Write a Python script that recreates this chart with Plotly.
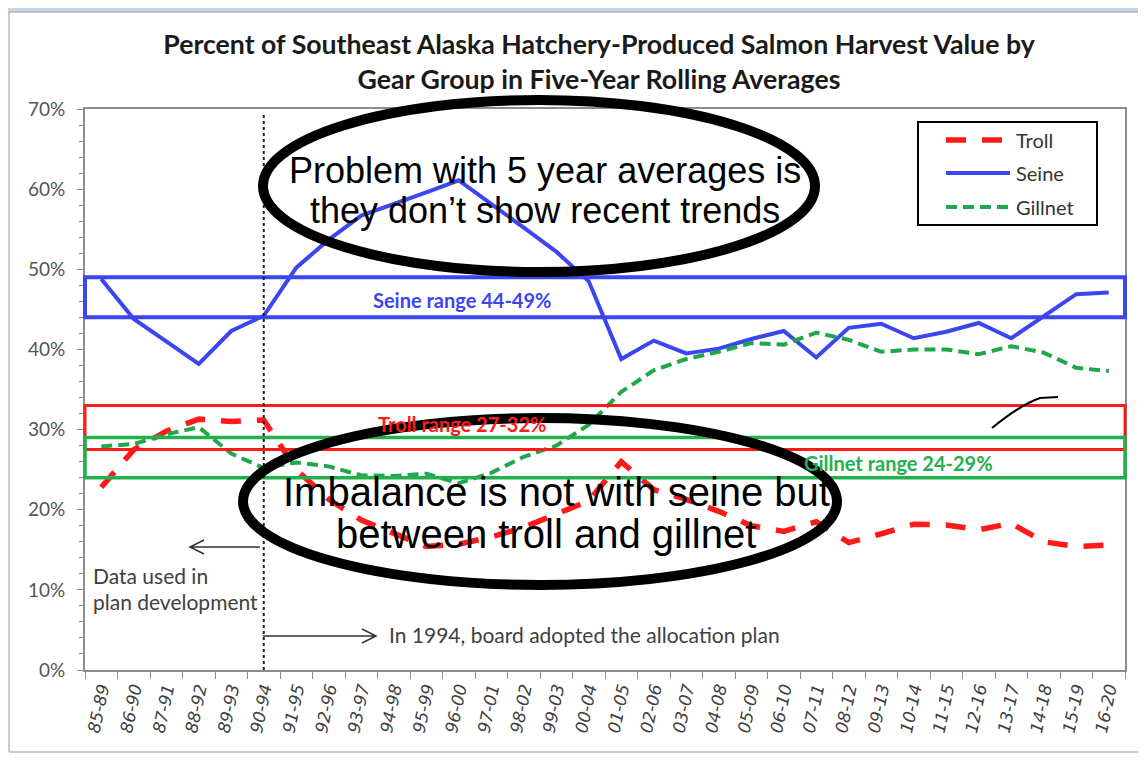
import plotly.graph_objects as go

categories = ["85-89", "86-90", "87-91", "88-92", "89-93", "90-94", "91-95", "92-96",
              "93-97", "94-98", "95-99", "96-00", "97-01", "98-02", "99-03", "00-04",
              "01-05", "02-06", "03-07", "04-08", "05-09", "06-10", "07-11", "08-12",
              "09-13", "10-14", "11-15", "12-16", "13-17", "14-18", "15-19", "16-20"]

troll = [22.8, 27.5, 29.8, 31.3, 31.0, 31.2, 25.0, 21.3, 18.7, 17.1, 15.4, 15.7,
         16.6, 17.8, 19.5, 21.1, 26.0, 22.5, 21.3, 19.8, 18.0, 17.3, 18.5, 15.9,
         17.0, 18.2, 18.1, 17.5, 18.3, 16.0, 15.4, 15.6]
seine = [48.8, 43.8, 41.0, 38.2, 42.3, 44.2, 50.2, 53.7, 56.7, 58.1, 59.6, 61.1,
         58.2, 55.2, 52.2, 48.5, 38.8, 41.1, 39.5, 40.1, 41.3, 42.3, 39.0, 42.7,
         43.2, 41.4, 42.2, 43.3, 41.4, 44.1, 46.9, 47.1]
gillnet = [27.9, 28.2, 29.4, 30.3, 27.0, 25.2, 25.9, 25.4, 24.3, 24.2, 24.5, 23.3,
           24.6, 26.6, 28.0, 30.6, 34.7, 37.4, 38.8, 39.7, 40.8, 40.6, 42.1, 41.2,
           39.7, 40.0, 40.0, 39.4, 40.4, 39.6, 37.7, 37.3]

series_names = ["Troll", "Seine", "Gillnet"]

ranges = {"Seine": (44, 49), "Troll": (27.5, 33), "Gillnet": (24, 29)}
range_labels = {"Seine": "Seine range 44-49%", "Troll": "Troll range 27-32%",
                "Gillnet": "Gillnet range 24-29%"}

# page geometry (the page body adds an 8px offset)
OFF = 8
PAGE_W, PAGE_H = 1146, 771
W, H = PAGE_W - OFF, PAGE_H - OFF
PL, PR, PT, PB = 85, 1125, 109, 670   # plot area in page pixels

RED = "#ff1a1a"
BLUE = "#3c46f0"
GREEN = "#1fa84a"
BOXGREEN = "#22b04c"
TXT = "#404040"
SANS = "Lato, sans-serif"
ARIAL = "Liberation Sans, Arial, sans-serif"

styles = {
    "Troll": dict(color=RED, width=5.5, dash="20px,16px"),
    "Seine": dict(color=BLUE, width=4),
    "Gillnet": dict(color=GREEN, width=4, dash="11px,6px"),
}


def px(x):
    return (x - PL) / (PR - PL)


def py(y):
    return (PB - y) / (PB - PT)


fig = go.Figure()
for name, vals in zip(series_names, (troll, seine, gillnet)):
    fig.add_trace(go.Scatter(x=categories, y=vals, name=name, mode="lines",
                             line=styles[name], showlegend=False))

shapes = []
annotations = []

# background frame
shapes.append(dict(type="rect", xref="paper", yref="paper", x0=px(0), x1=px(PAGE_W + 5),
                   y0=py(0), y1=py(12), fillcolor="#c6d5ea", line=dict(width=0),
                   layer="below"))
shapes.append(dict(type="rect", xref="paper", yref="paper", x0=px(9), x1=px(1141),
                   y0=py(12), y1=py(752), fillcolor="rgba(0,0,0,0)",
                   line=dict(color="#9a9a9a", width=1), layer="below"))

# range boxes
box_cols = {"Seine": BLUE, "Troll": RED, "Gillnet": BOXGREEN}
box_w = {"Seine": 4, "Troll": 3, "Gillnet": 3.5}
for k, (lo, hi) in ranges.items():
    shapes.append(dict(type="rect", xref="paper", yref="y", x0=0.0, x1=1.0,
                       y0=lo, y1=hi, line=dict(color=box_cols[k], width=box_w[k]),
                       fillcolor="rgba(0,0,0,0)"))

label_pos = {"Seine": (462, 300), "Troll": (462, 424), "Gillnet": (898, 463)}
for k, (lx, ly) in label_pos.items():
    annotations.append(dict(x=px(lx), y=py(ly), xref="paper", yref="paper",
                            xanchor="center", yanchor="middle",
                            text="<b>%s</b>" % range_labels[k], showarrow=False,
                            font=dict(family=SANS, size=20, color=box_cols[k])))

# dotted vertical line at 90-94
shapes.append(dict(type="line", xref="x", yref="paper", x0=5, x1=5, y0=0, y1=py(112),
                   line=dict(color="#222222", width=2, dash="dot")))

# legend (drawn box)
shapes.append(dict(type="rect", xref="paper", yref="paper", x0=px(918), x1=px(1097),
                   y0=py(122), y1=py(225), fillcolor="white",
                   line=dict(color="black", width=2)))
for name, yy in zip(series_names, (140, 173, 207)):
    shapes.append(dict(type="line", xref="paper", yref="paper", x0=px(946), x1=px(1010),
                       y0=py(yy), y1=py(yy), line=styles[name]))
    annotations.append(dict(x=px(1014), y=py(yy), xref="paper", yref="paper",
                            xanchor="left", yanchor="middle", text=name,
                            showarrow=False,
                            font=dict(family=SANS, size=20, color="#333333")))

# ellipses
shapes.append(dict(type="circle", xref="paper", yref="paper", x0=px(263), x1=px(815),
                   y0=py(100), y1=py(272), line=dict(color="black", width=10)))
shapes.append(dict(type="circle", xref="paper", yref="paper", x0=px(243), x1=px(837),
                   y0=py(418), y1=py(585), line=dict(color="black", width=10)))

# doodle
doodle = "M %f %f Q %f %f %f %f L %f %f" % (px(992), py(428), px(1020), py(405),
                                             px(1040), py(398), px(1058), py(397))
shapes.append(dict(type="path", xref="paper", yref="paper", path=doodle,
                   line=dict(color="black", width=2)))

# arrows drawn as paths
arr_l = "M %f %f L %f %f M %f %f L %f %f L %f %f" % (
    px(260), py(547), px(190), py(547),
    px(204), py(540), px(190), py(547), px(204), py(554))
arr_r = "M %f %f L %f %f M %f %f L %f %f L %f %f" % (
    px(263), py(636), px(376), py(636),
    px(362), py(629), px(376), py(636), px(362), py(643))
for p in (arr_l, arr_r):
    shapes.append(dict(type="path", xref="paper", yref="paper", path=p,
                       line=dict(color="#333333", width=1.5)))

for txt, yy in (("Data used in", 575), ("plan development", 601)):
    annotations.append(dict(x=px(91), y=py(yy), xref="paper", yref="paper",
                            xanchor="left", yanchor="middle", text=txt,
                            showarrow=False,
                            font=dict(family=SANS, size=21, color=TXT)))
annotations.append(dict(x=px(387), y=py(634), xref="paper", yref="paper",
                        xanchor="left", yanchor="middle",
                        text="In 1994, board adopted the allocation plan",
                        showarrow=False,
                        font=dict(family=SANS, size=21, color=TXT)))

# ellipse texts
for txt, xx, yy, sz in (("Problem with 5 year averages is", 545, 171, 36),
                        ("they don\u2019t show recent trends", 545, 211, 36),
                        ("Imbalance is not with seine but", 556, 492, 40),
                        ("between troll and gillnet", 546, 534, 40)):
    annotations.append(dict(x=px(xx), y=py(yy), xref="paper", yref="paper",
                            xanchor="center", yanchor="middle",
                            text=txt, showarrow=False,
                            font=dict(family=ARIAL, size=sz, color="black")))

fig.update_layout(
    width=W, height=H,
    margin=dict(l=PL - OFF, r=PAGE_W - PR, t=PT - OFF, b=PAGE_H - PB),
    paper_bgcolor="white", plot_bgcolor="white",
    title=dict(text="<b>Percent of Southeast Alaska Hatchery-Produced Salmon Harvest Value by<br>Gear Group in Five-Year Rolling Averages</b>",
               x=(599 - OFF) / W, xanchor="center", y=1 - (54 - OFF) / H,
               yanchor="middle",
               font=dict(family=SANS, size=26.7, color="#1a1a1a")),
    showlegend=False,
    shapes=shapes, annotations=annotations,
)
fig.update_xaxes(type="category", range=[-0.5, 31.5], showgrid=False,
                 showline=True, linecolor="#8c8c8c", linewidth=2, mirror=True,
                 ticks="outside", tickson="boundaries", ticklen=7, tickcolor="#8c8c8c",
                 tickangle=-78,
                 tickfont=dict(family="DejaVu Sans, sans-serif", size=17, color=TXT,
                               style="italic"))
fig.update_yaxes(range=[0, 70], dtick=10, ticksuffix="%", showgrid=False,
                 zeroline=False, showline=True, linecolor="#8c8c8c", linewidth=2,
                 mirror=True, ticks="outside", ticklen=6, tickcolor="#8c8c8c",
                 ticklabelstandoff=8,
                 minor=dict(ticks="outside", dtick=2, ticklen=4, tickcolor="#8c8c8c"),
                 tickfont=dict(family=SANS, size=19, color="#555555"))

fig.write_html("out.html")
